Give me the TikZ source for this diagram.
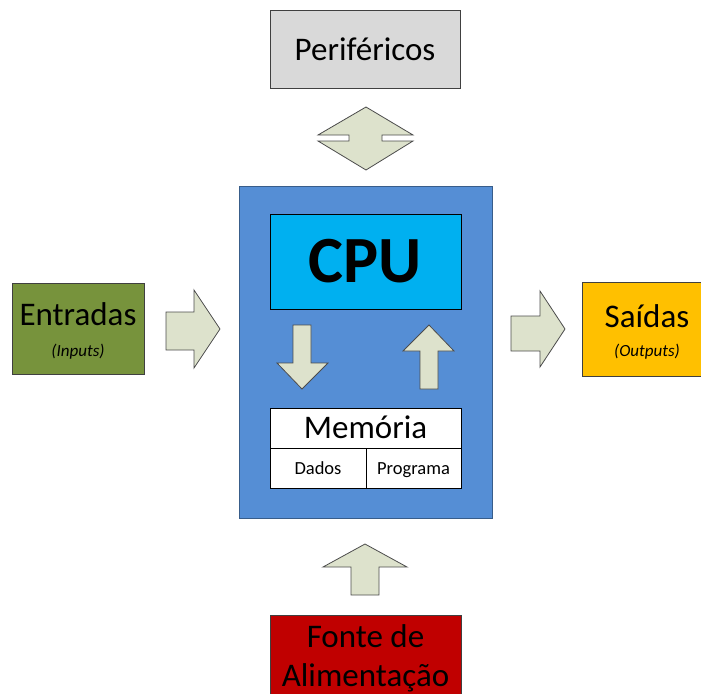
\documentclass[tikz,border=0pt]{standalone}
\usepackage{fontspec}
\setmainfont{Carlito}
\definecolor{perigray}{RGB}{217,217,217}
\definecolor{arrowfill}{RGB}{221,226,204}
\definecolor{mainblue}{RGB}{85,142,213}
\definecolor{mainborder}{RGB}{56,93,138}
\definecolor{cpucyan}{RGB}{0,176,240}
\definecolor{ingreen}{RGB}{119,147,60}
\definecolor{outorange}{RGB}{255,192,0}
\definecolor{powerred}{RGB}{192,0,0}
\tikzset{
  box/.style={draw=black!75, line width=0.8pt, inner sep=0pt},
  blockarrow/.style={draw=black!70, fill=arrowfill, line width=0.8pt, line join=miter},
  bigtext/.style={font=\fontsize{33}{39}\selectfont, inner sep=0pt},
  smalltext/.style={font=\fontsize{17}{20}\selectfont\itshape, inner sep=0pt},
}
\begin{document}
\begin{tikzpicture}[x=1pt,y=-1pt]
\useasboundingbox (0,0) rectangle (701,693);
\clip (0,0) rectangle (701,693);

\node[box, fill=perigray, minimum width=190pt, minimum height=78pt] (perif) at (365,49) {};
\node[bigtext] (perif_txt) at (perif) {Periféricos};
\draw[blockarrow] (366,107) -- (413,135) -- (382,135) -- (382,141) -- (413,141) -- (366,170)
  -- (318,141) -- (349,141) -- (349,135) -- (318,135) -- cycle;

\node[box, draw=mainborder, fill=mainblue, minimum width=253pt, minimum height=332pt] (main) at (365.5,352) {};
\node[box, draw=black, fill=cpucyan, minimum width=191pt, minimum height=95pt] (cpu) at (365.5,261.5) {};
\node[font=\fontsize{66}{70}\selectfont\bfseries, inner sep=0pt, anchor=base] (cpu_txt) at ([shift={+(0,20.5)}]cpu) {CPU};

\draw[blockarrow] (293,325) -- (311,325) -- (311,363) -- (328,363) -- (302,389) -- (277,363) -- (293,363) -- cycle;
\draw[blockarrow] (429,325) -- (454,351) -- (438,351) -- (438,389) -- (420,389) -- (420,351) -- (403,351) -- cycle;

\node[box, draw=black, fill=white, minimum width=191pt, minimum height=40pt] (mem) at (365.5,428) {};
\node[box, draw=black, fill=white, minimum width=96pt, minimum height=40pt] (dados) at (318,468) {};
\node[box, draw=black, fill=white, minimum width=95pt, minimum height=40pt] (prog) at (413.5,468) {};
\node[bigtext, anchor=base] (mem_txt) at ([shift={+(0,10)}]mem) {Memória};
\node[font=\fontsize{18.5}{22}\selectfont, inner sep=0pt, anchor=base] (dados_txt) at ([shift={+(0,6)}]dados) {Dados};
\node[font=\fontsize{18.5}{22}\selectfont, inner sep=0pt, anchor=base] (prog_txt) at ([shift={+(0,6)}]prog) {Programa};

\node[box, fill=ingreen, minimum width=132pt, minimum height=91pt] (inp) at (78,328.5) {};
\node[bigtext, anchor=base] (inp_txt) at (78,325) {Entradas};
\node[smalltext, anchor=base] (inp_sub) at (78,356) {(Inputs)};
\draw[blockarrow] (166,312) -- (194,312) -- (194,290) -- (220,329) -- (194,368) -- (194,350) -- (166,350) -- cycle;

\draw[blockarrow] (511,316) -- (540,316) -- (540,291) -- (565,329) -- (540,367) -- (540,351) -- (511,351) -- cycle;
\node[box, fill=outorange, minimum width=130pt, minimum height=94pt] (outp) at (647,329) {};
\node[bigtext, anchor=base] (outp_txt) at (647,327) {Saídas};
\node[smalltext, anchor=base] (outp_sub) at (647,356) {(Outputs)};

\draw[blockarrow] (365,544) -- (407,567) -- (379,567) -- (379,595) -- (351,595) -- (351,567) -- (323,567) -- cycle;
\node[box, fill=powerred, minimum width=191pt, minimum height=105pt] (power) at (365.5,667.5) {};
\node[bigtext, anchor=base] (power_l1) at (365.5,647) {Fonte de};
\node[bigtext, anchor=base] (power_l2) at (365.5,686) {Alimentação};
\end{tikzpicture}
\end{document}
